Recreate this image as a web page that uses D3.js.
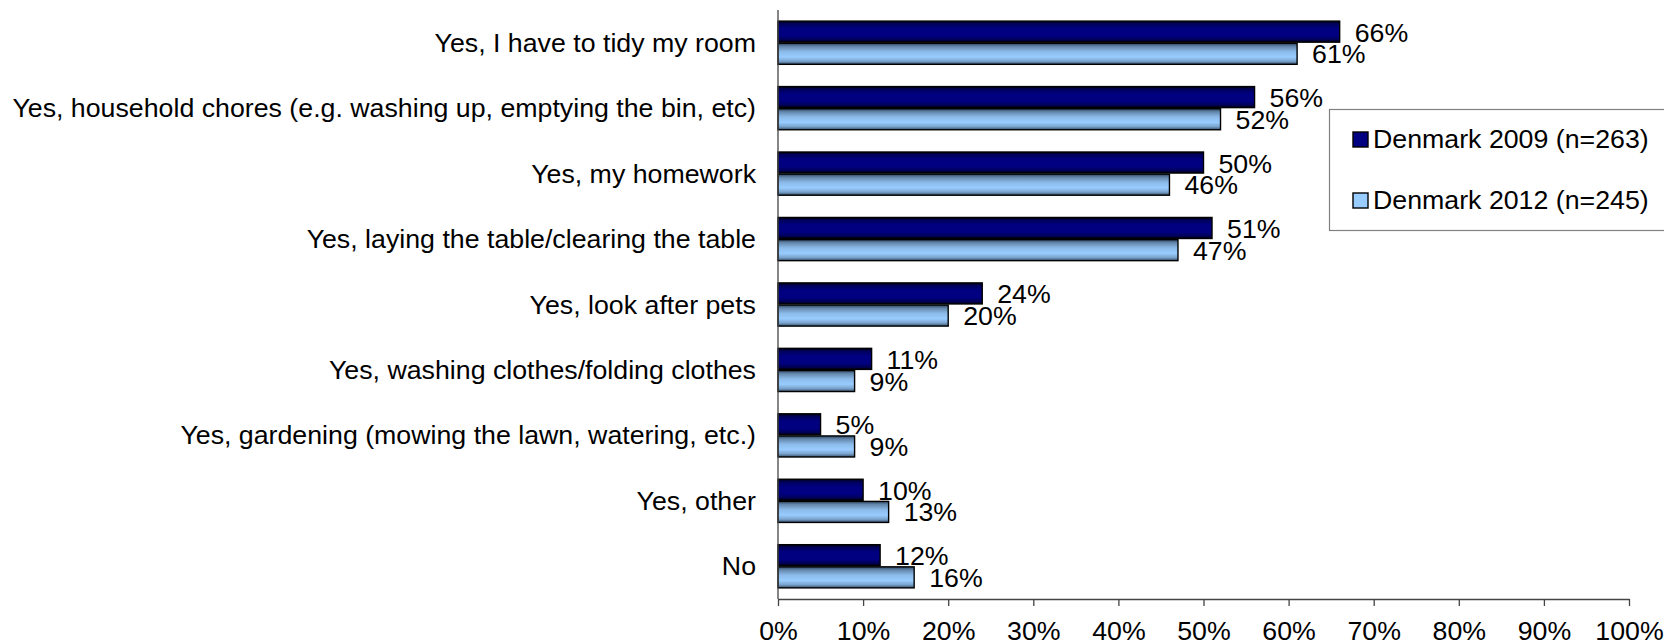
<!DOCTYPE html>
<html>
<head>
<meta charset="utf-8">
<script src="https://cdn.jsdelivr.net/npm/d3@7/dist/d3.min.js"></script>
<style>
  html, body { margin: 0; padding: 0; background: #fff; }
  svg { display: block; }
  text { font-family: "Liberation Sans", Arial, sans-serif; fill: #000; }
</style>
</head>
<body>
<svg id="chart" width="1664" height="644"></svg>
<script>
// Chores children say they help with at home
const categories = [
  "Yes, I have to tidy my room",
  "Yes, household chores (e.g. washing up, emptying the bin, etc)",
  "Yes, my homework",
  "Yes, laying the table/clearing the table",
  "Yes, look after pets",
  "Yes, washing clothes/folding clothes",
  "Yes, gardening (mowing the lawn, watering, etc.)",
  "Yes, other",
  "No"
];
const seriesNames = ["Denmark 2009 (n=263)", "Denmark 2012 (n=245)"];
const values2009 = [66, 56, 50, 51, 24, 11, 5, 10, 12];
const values2012 = [61, 52, 46, 47, 20, 9, 9, 13, 16];
const xTicks = [0, 10, 20, 30, 40, 50, 60, 70, 80, 90, 100];

const svg = d3.select("#chart");
const FS = 25, SX = 1.07;           // font size and horizontal stretch of text
const plot = { left: 778, right: 1629, top: 10, bottom: 599 };

const x = d3.scaleLinear().domain([0, 100]).range([plot.left, plot.right]);
const y = d3.scaleBand().domain(categories).range([plot.top, plot.bottom])
  .paddingInner(0.34).paddingOuter(0.17);
const ySub = d3.scaleBand().domain(seriesNames).range([0, y.bandwidth()]).paddingInner(0.05);

// bar shading
const defs = svg.append("defs");
const gradients = [
  { id: "g2009", stops: [[0, "#000010"], [0.12, "#000058"], [0.35, "#000080"], [0.7, "#000080"], [0.88, "#000058"], [1, "#000010"]] },
  { id: "g2012", stops: [[0, "#2c4560"], [0.15, "#6487ac"], [0.4, "#8cbbea"], [0.65, "#99ccff"], [0.85, "#7aa3cc"], [1, "#34506c"]] }
];
gradients.forEach(g => {
  const lg = defs.append("linearGradient").attr("id", g.id)
    .attr("x1", 0).attr("y1", 0).attr("x2", 0).attr("y2", 1);
  g.stops.forEach(s => lg.append("stop").attr("offset", s[0]).attr("stop-color", s[1]));
});
const fills = ["url(#g2009)", "url(#g2012)"];
const swatch = ["#000080", "#99ccff"];
const labelShift = [10, 9.5];       // baseline offset from each bar's centre

const rows = categories.map((c, i) => ({ cat: c, vals: [values2009[i], values2012[i]] }));

// bars
const groups = svg.append("g").selectAll("g").data(rows).join("g")
  .attr("transform", d => `translate(0,${y(d.cat)})`);
groups.selectAll("rect").data(d => d.vals.map((v, k) => ({ v, k }))).join("rect")
  .attr("x", x(0))
  .attr("y", d => ySub(seriesNames[d.k]))
  .attr("width", d => x(d.v) - x(0))
  .attr("height", ySub.bandwidth())
  .attr("fill", d => fills[d.k])
  .attr("stroke", "#000")
  .attr("stroke-width", 1.4);

// value labels
groups.selectAll("text").data(d => d.vals.map((v, k) => ({ v, k }))).join("text")
  .attr("transform", d => `translate(${x(d.v) + 15},${ySub(seriesNames[d.k]) + ySub.bandwidth() / 2 + labelShift[d.k]}) scale(${SX},1)`)
  .attr("font-size", FS)
  .text(d => d.v + "%");

// category labels
svg.append("g").selectAll("text").data(categories).join("text")
  .attr("transform", d => `translate(756,${y(d) + y.bandwidth() / 2 + 9}) scale(${SX},1)`)
  .attr("text-anchor", "end")
  .attr("font-size", FS)
  .text(d => d);

// axes
const xAxis = svg.append("g").attr("transform", `translate(0,${plot.bottom})`)
  .call(d3.axisBottom(x).tickValues(xTicks).tickSize(7).tickSizeOuter(0).tickFormat(d => d + "%"));
xAxis.select(".domain").attr("stroke", "#444").attr("stroke-width", 1.3);
xAxis.selectAll(".tick line").attr("stroke", "#444").attr("stroke-width", 1.3);
xAxis.selectAll(".tick text")
  .attr("font-size", FS)
  .attr("font-family", "\"Liberation Sans\", Arial, sans-serif")
  .attr("fill", "#000")
  .attr("y", 0).attr("dy", 0)
  .attr("transform", `translate(0,41) scale(${SX},1)`);

svg.append("line")
  .attr("x1", plot.left).attr("x2", plot.left)
  .attr("y1", plot.top).attr("y2", plot.bottom)
  .attr("stroke", "#444").attr("stroke-width", 1.3);

// legend
const legend = svg.append("g");
legend.append("rect")
  .attr("x", 1329.5).attr("y", 109.5).attr("width", 345).attr("height", 121)
  .attr("fill", "#fff").attr("stroke", "#808080").attr("stroke-width", 1.2);
const items = legend.selectAll("g").data(seriesNames).join("g")
  .attr("transform", (d, i) => `translate(1353,${132 + i * 61})`);
items.append("rect")
  .attr("width", 15).attr("height", 15)
  .attr("fill", (d, i) => swatch[i]).attr("stroke", "#000").attr("stroke-width", 1.4);
items.append("text")
  .attr("transform", `translate(20,16) scale(${SX},1)`)
  .attr("font-size", FS)
  .text(d => d);
</script>
</body>
</html>
